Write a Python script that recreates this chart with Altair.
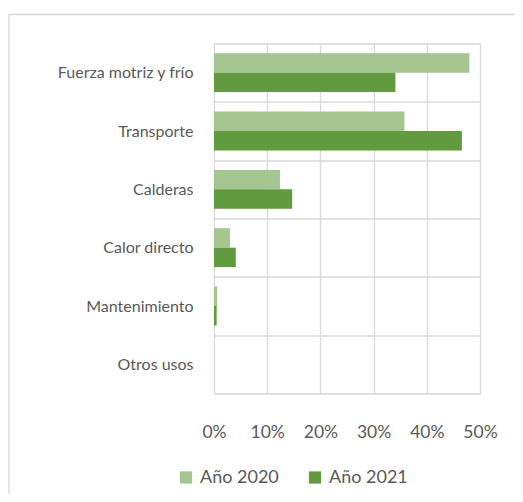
import altair as alt
import pandas as pd

categories = ["Fuerza motriz y frío", "Transporte", "Calderas", "Calor directo", "Mantenimiento", "Otros usos"]
series = ["Año 2020", "Año 2021"]
values_2020 = [48.0, 35.8, 12.4, 3.0, 0.6, 0.0]
values_2021 = [34.1, 46.6, 14.7, 4.1, 0.5, 0.0]
x_ticks = [0, 10, 20, 30, 40, 50]
colors = ["#a4c58f", "#629b3f"]

rows = []
for c, a, b in zip(categories, values_2020, values_2021):
    rows.append({"cat": c, "serie": series[0], "val": a})
    rows.append({"cat": c, "serie": series[1], "val": b})
df = pd.DataFrame(rows)

FONT = "Lato"
TXT = "#595959"
GRID = "#d9d9d9"

bars = alt.Chart(df).mark_bar(strokeWidth=0).encode(
    y=alt.Y("cat:N", sort=categories, title=None,
            scale=alt.Scale(paddingInner=0, paddingOuter=0),
            axis=alt.Axis(tickBand="extent", grid=True, gridColor=GRID, gridWidth=1.3,
                          domain=False, ticks=False, labelPadding=21,
                          labelFont=FONT, labelFontSize=16, labelColor=TXT)),
    yOffset=alt.YOffset("serie:N", sort=series,
                        scale=alt.Scale(paddingInner=0, paddingOuter=0.5)),
    x=alt.X("val:Q", title=None,
            scale=alt.Scale(domain=[0, 50], nice=False),
            axis=alt.Axis(values=x_ticks, labelExpr="datum.value + '%'",
                          grid=True, gridColor=GRID, gridWidth=1.3,
                          domain=False, ticks=False, labelPadding=30,
                          labelFlush=False, labelOverlap=False,
                          labelFont=FONT, labelFontSize=17.5, labelColor=TXT)),
    color=alt.Color("serie:N", sort=series,
                    scale=alt.Scale(domain=series, range=colors),
                    legend=alt.Legend(title=None, orient="none", direction="horizontal",
                                      legendX=-37, legendY=425,
                                      symbolType="square", symbolSize=150,
                                      symbolStrokeWidth=0, columnPadding=27,
                                      labelFont=FONT, labelFontSize=18, labelColor=TXT,
                                      labelOffset=5)),
)

frame = alt.Chart(pd.DataFrame({"k": [0]})).mark_rect(
    fill=None, stroke=GRID, strokeWidth=1.3, clip=False
).encode(
    x=alt.value(-205), x2=alt.value(330),
    y=alt.value(-29), y2=alt.value(480),
)

chart = alt.layer(frame, bars).properties(
    width=266, height=350,
    autosize=alt.AutoSizeParams(type="none"),
    padding={"left": 206, "top": 35.5, "right": 35, "bottom": 100.5},
).configure_view(stroke=GRID, strokeWidth=1.3).configure(background="white")

chart.save("out.html", embed_options={"renderer": "svg", "actions": False})
